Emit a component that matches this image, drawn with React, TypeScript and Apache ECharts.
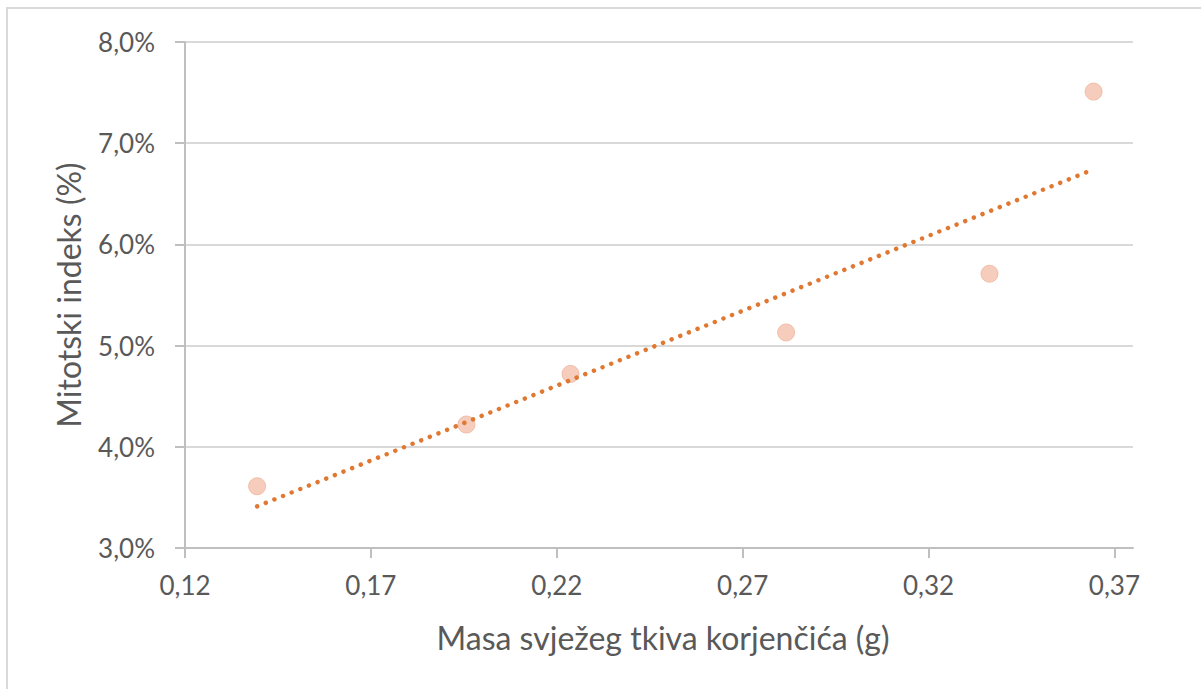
import React, { useEffect, useRef } from "react";
import * as echarts from "echarts";

const massValues = [0.1394, 0.1957, 0.2237, 0.2817, 0.3364, 0.3644];
const mitoticIndex = [3.61, 4.22, 4.72, 5.13, 5.71, 7.51];
const xTicks = [0.12, 0.17, 0.22, 0.27, 0.32, 0.37];
const xTitle = "Masa svježeg tkiva korjenčića (g)";
const yTitle = "Mitotski indeks (%)";

function regression(xs: number[], ys: number[]) {
  const n = xs.length;
  const mx = xs.reduce((a, b) => a + b, 0) / n;
  const my = ys.reduce((a, b) => a + b, 0) / n;
  let sxy = 0, sxx = 0;
  for (let i = 0; i < n; i++) {
    sxy += (xs[i] - mx) * (ys[i] - my);
    sxx += (xs[i] - mx) * (xs[i] - mx);
  }
  const slope = sxy / sxx;
  const intercept = my - slope * mx;
  return { slope, intercept };
}

export default function App() {
  const ref = useRef<HTMLDivElement>(null);
  useEffect(() => {
    if (!ref.current) return;
    const chart = echarts.init(ref.current, null, { renderer: "svg" });
    const { slope, intercept } = regression(massValues, mitoticIndex);
    const xMin = Math.min(...massValues);
    const xMax = Math.max(...massValues);
    const trend = [
      [xMin, intercept + slope * xMin],
      [xMax, intercept + slope * xMax],
    ];
    const font = "Lato, 'Open Sans', sans-serif";
    chart.setOption({
      animation: false,
      backgroundColor: "#ffffff",
      textStyle: { fontFamily: font },
      graphic: [
        {
          type: "rect",
          shape: { x: 7, y: 8, width: 1400, height: 900 },
          style: { fill: "none", stroke: "#d9d9d9", lineWidth: 2 },
          silent: true,
        },
      ],
      grid: { left: 185, right: 68, top: 42, bottom: 141 },
      xAxis: {
        type: "value",
        min: 0.12,
        max: 0.375,
        interval: 0.05,
        name: xTitle,
        nameLocation: "middle",
        nameGap: 73,
        nameTextStyle: {
          fontSize: 32,
          color: "#595959",
          fontFamily: font,
          padding: [0, 0, 0, 8],
        },
        axisLine: { show: true, lineStyle: { color: "#bfbfbf", width: 2 } },
        axisTick: {
          show: true,
          length: 10,
          lineStyle: { color: "#bfbfbf", width: 2 },
          customValues: xTicks,
        },
        axisLabel: {
          fontSize: 26,
          color: "#595959",
          margin: 24,
          fontFamily: font,
          customValues: xTicks,
          formatter: (v: number) => v.toFixed(2).replace(".", ","),
        },
        splitLine: { show: false },
      },
      yAxis: {
        type: "value",
        min: 3,
        max: 8,
        interval: 1,
        name: yTitle,
        nameLocation: "middle",
        nameGap: 101,
        nameTextStyle: { fontSize: 32, color: "#595959", fontFamily: font },
        axisLine: { show: true, lineStyle: { color: "#bfbfbf", width: 2 } },
        axisTick: {
          show: true,
          length: 10,
          lineStyle: { color: "#bfbfbf", width: 2 },
        },
        axisLabel: {
          fontSize: 26,
          color: "#595959",
          margin: 30,
          fontFamily: font,
          formatter: (v: number) => v.toFixed(1).replace(".", ",") + "%",
        },
        splitLine: { show: true, lineStyle: { color: "#d9d9d9", width: 2 } },
      },
      series: [
        {
          type: "scatter",
          data: massValues.map((x, i) => [x, mitoticIndex[i]]),
          symbol: "circle",
          symbolSize: 17,
          itemStyle: { color: "#f4c1ab", borderColor: "#efb39b", borderWidth: 1 },
          z: 2,
        },
        {
          type: "line",
          data: trend,
          symbol: "none",
          lineStyle: {
            color: "#e07832",
            width: 4.5,
            type: [0.01, 9.3],
            cap: "round",
          },
          z: 3,
        },
      ],
    });
    return () => chart.dispose();
  }, []);
  return (
    <div
      ref={ref}
      style={{ position: "fixed", left: 0, top: 0, width: 1201, height: 689 }}
    />
  );
}
